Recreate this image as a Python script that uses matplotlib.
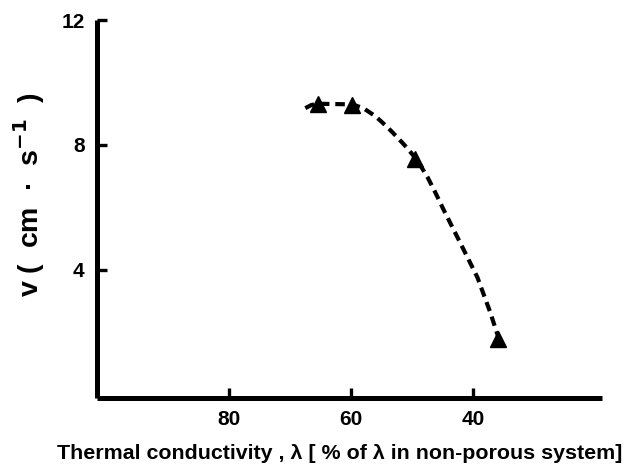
import matplotlib
matplotlib.use("Agg")
import matplotlib.pyplot as plt

plt.rcParams['font.family'] = ['Liberation Sans', 'DejaVu Sans']
plt.rcParams['font.weight'] = 'bold'

# Measured points: thermal conductivity (% of non-porous value) vs velocity
conductivity = [65.4, 59.8, 49.6, 35.9]
velocity = [9.32, 9.28, 7.55, 1.78]

# Hand-fitted trend curve drawn through the measurements
curve_x = [67.5, 66.5, 65.4, 59.8, 58.0, 56.0, 54.1, 52.3, 50.8, 49.2, 47.5,
           46.2, 44.9, 42.1, 39.3, 37.2, 35.9]
curve_y = [9.18, 9.28, 9.32, 9.30, 9.18, 8.92, 8.58, 8.22, 7.90, 7.52, 6.98,
           6.48, 5.95, 4.86, 3.76, 2.64, 1.86]

x_ticks = [80, 60, 40]
y_ticks = [4, 8, 12]

fig = plt.figure(figsize=(6.27, 4.67), dpi=100)
ax = fig.add_axes([0.155, 0.148, 0.805, 0.809])

ax.plot(curve_x, curve_y, color='black', lw=3.0, dashes=(2.3, 1.4),
        solid_capstyle='butt', dash_capstyle='butt', zorder=2)
ax.plot(conductivity, velocity, linestyle='none', marker='^', ms=12,
        color='black', zorder=3)

ax.set_xlim(101.6, 18.9)
ax.set_ylim(-0.1, 12)

for side in ('top', 'right'):
    ax.spines[side].set_visible(False)
for side in ('left', 'bottom'):
    ax.spines[side].set_linewidth(3.6)
    ax.spines[side].set_capstyle('butt')

ax.set_xticks(x_ticks)
ax.set_yticks(y_ticks)
ax.tick_params(direction='in', length=7, width=2.4, labelsize=15, pad=9)
for lab in ax.get_xticklabels() + ax.get_yticklabels():
    lab.set_fontweight('bold')

ax.set_xlabel('Thermal conductivity , λ [ % of λ in non-porous system]',
              fontsize=15.4, fontweight='bold')
ax.xaxis.set_label_coords(0.48, -0.122)
ax.set_ylabel('v (  cm  ·  s$^{\\mathbf{-1}}$  )', fontsize=20.5, fontweight='bold')
ax.yaxis.set_label_coords(-0.1, 0.537)

fig.savefig('out.png', dpi=100)
